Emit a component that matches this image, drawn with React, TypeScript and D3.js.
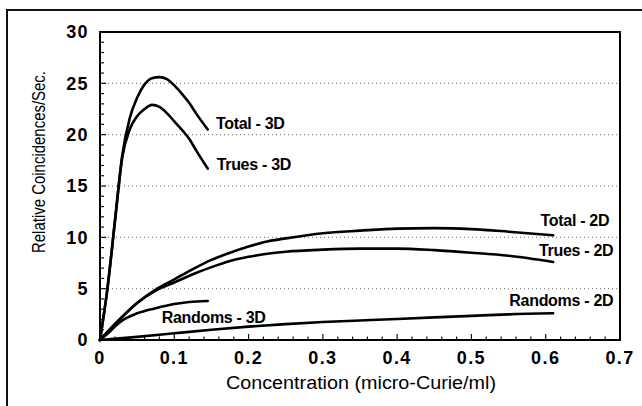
import React from "react";
import * as d3 from "d3";

const x3D = [0, 0.01, 0.02, 0.03, 0.04, 0.05, 0.06, 0.07, 0.08, 0.09, 0.1, 0.11, 0.12, 0.13, 0.145];
const total3D = [0, 5, 11.5, 18, 21.6, 23.6, 24.9, 25.5, 25.6, 25.4, 24.8, 24.0, 23.1, 22.0, 20.5];
const trues3D = [0, 5, 11.5, 17.8, 20.5, 21.8, 22.5, 22.9, 22.7, 22.1, 21.3, 20.5, 19.6, 18.4, 16.7];

const xRand3D = [0, 0.01, 0.02, 0.03, 0.05, 0.075, 0.1, 0.12, 0.145];
const randoms3D = [0, 0.6, 1.3, 1.9, 2.6, 3.1, 3.5, 3.7, 3.8];

const x2D = [0, 0.025, 0.05, 0.075, 0.1, 0.125, 0.15, 0.175, 0.2, 0.225, 0.25, 0.3, 0.35, 0.4, 0.45, 0.5, 0.55, 0.61];
const total2D = [0, 1.9, 3.6, 4.9, 5.9, 6.9, 7.8, 8.5, 9.1, 9.6, 9.9, 10.4, 10.65, 10.85, 10.9, 10.8, 10.55, 10.2];
const trues2D = [0, 1.9, 3.6, 4.8, 5.6, 6.4, 7.1, 7.7, 8.1, 8.4, 8.6, 8.8, 8.9, 8.9, 8.75, 8.5, 8.2, 7.6];

const xRand2D = [0, 0.05, 0.1, 0.15, 0.2, 0.25, 0.3, 0.35, 0.4, 0.45, 0.5, 0.55, 0.61];
const randoms2D = [0, 0.3, 0.65, 1.0, 1.3, 1.55, 1.75, 1.9, 2.05, 2.2, 2.35, 2.5, 2.6];

const xTicks = [0, 0.1, 0.2, 0.3, 0.4, 0.5, 0.6, 0.7];
const yTicks = [0, 5, 10, 15, 20, 25, 30];

const labelTexts = ["Total - 3D", "Trues - 3D", "Randoms - 3D", "Total - 2D", "Trues - 2D", "Randoms - 2D"];
const labelX = [0.156, 0.157, 0.083, 0.593, 0.591, 0.551];
const labelY = [21.1, 17.1, 2.24, 11.7, 8.7, 3.9];

const W = 642;
const H = 406;
const M = { left: 100, top: 32, right: 620, bottom: 340 };

export default function App() {
  const x = d3.scaleLinear().domain([0, 0.7]).range([M.left, M.right]);
  const y = d3.scaleLinear().domain([0, 30]).range([M.bottom, M.top]);

  const line = d3
    .line<[number, number]>()
    .x((d) => x(d[0]))
    .y((d) => y(d[1]))
    .curve(d3.curveMonotoneX);

  const series: [number[], number[]][] = [
    [x3D, total3D],
    [x3D, trues3D],
    [xRand3D, randoms3D],
    [x2D, total2D],
    [x2D, trues2D],
    [xRand2D, randoms2D],
  ];

  const yMinor = d3.range(0, 31, 1);
  const xMinor = d3.range(0, 0.7001, 0.02);

  return (
    <svg
      width={W}
      height={H}
      style={{ position: "absolute", left: 0, top: 0, background: "#fff" }}
      fontFamily="Arial, 'Liberation Sans', Helvetica, sans-serif"
    >
      <rect x={0} y={0} width={W} height={H} fill="#fff" />
      <rect x={7} y={10} width={W + 20} height={H + 20} fill="none" stroke="#111" strokeWidth={2} />

      {/* grid */}
      {yTicks
        .filter((t) => t > 0 && t < 30)
        .map((t) => (
          <line
            key={"g" + t}
            x1={M.left}
            x2={M.right}
            y1={y(t)}
            y2={y(t)}
            stroke="#666"
            strokeWidth={1}
            strokeDasharray="1,3"
          />
        ))}

      {/* y ticks */}
      {yMinor.map((t) => (
        <line
          key={"ym" + t}
          x1={M.left}
          x2={M.left + (t % 5 === 0 ? 6 : 4)}
          y1={y(t)}
          y2={y(t)}
          stroke="#111"
          strokeWidth={1.2}
        />
      ))}
      {/* x ticks */}
      {xMinor.map((t, i) => (
        <line
          key={"xm" + i}
          x1={x(t)}
          x2={x(t)}
          y1={M.bottom}
          y2={M.bottom - (i % 5 === 0 ? 6 : 3.5)}
          stroke="#111"
          strokeWidth={1.2}
        />
      ))}

      {/* series */}
      {series.map(([xs, ys], i) => (
        <path
          key={"s" + i}
          d={line(xs.map((v, j) => [v, ys[j]] as [number, number])) || ""}
          fill="none"
          stroke="#000"
          strokeWidth={2.6}
          strokeLinejoin="round"
          strokeLinecap="round"
        />
      ))}

      {/* plot frame */}
      <rect
        x={M.left}
        y={M.top}
        width={M.right - M.left}
        height={M.bottom - M.top}
        fill="none"
        stroke="#000"
        strokeWidth={2}
      />

      {/* tick labels */}
      {yTicks.map((t) => (
        <text
          key={"yl" + t}
          x={89}
          y={y(t)}
          dy="0.36em"
          textAnchor="end"
          fontSize={18}
          fontWeight="bold"
          letterSpacing={1.4}
        >
          {t}
        </text>
      ))}
      {xTicks.map((t) => (
        <text
          key={"xl" + t}
          x={x(t)}
          y={364}
          textAnchor="middle"
          fontSize={18}
          fontWeight="bold"
          letterSpacing={1.4}
        >
          {t === 0 ? "0" : t.toFixed(1)}
        </text>
      ))}

      {/* series labels */}
      {labelTexts.map((s, i) => (
        <text
          key={"l" + i}
          x={x(labelX[i])}
          y={y(labelY[i])}
          dy="0.36em"
          fontSize={16}
          fontWeight="bold"
          letterSpacing={-0.3}
        >
          {s}
        </text>
      ))}

      {/* axis titles */}
      <text
        x={361}
        y={389}
        textAnchor="middle"
        fontSize={18}
        textLength={270}
        lengthAdjust="spacingAndGlyphs"
      >
        Concentration (micro-Curie/ml)
      </text>
      <text
        transform={`translate(45,${162}) rotate(-90)`}
        textAnchor="middle"
        fontSize={19}
        textLength={182}
        lengthAdjust="spacingAndGlyphs"
      >
        Relative Coincidences/Sec.
      </text>
    </svg>
  );
}
